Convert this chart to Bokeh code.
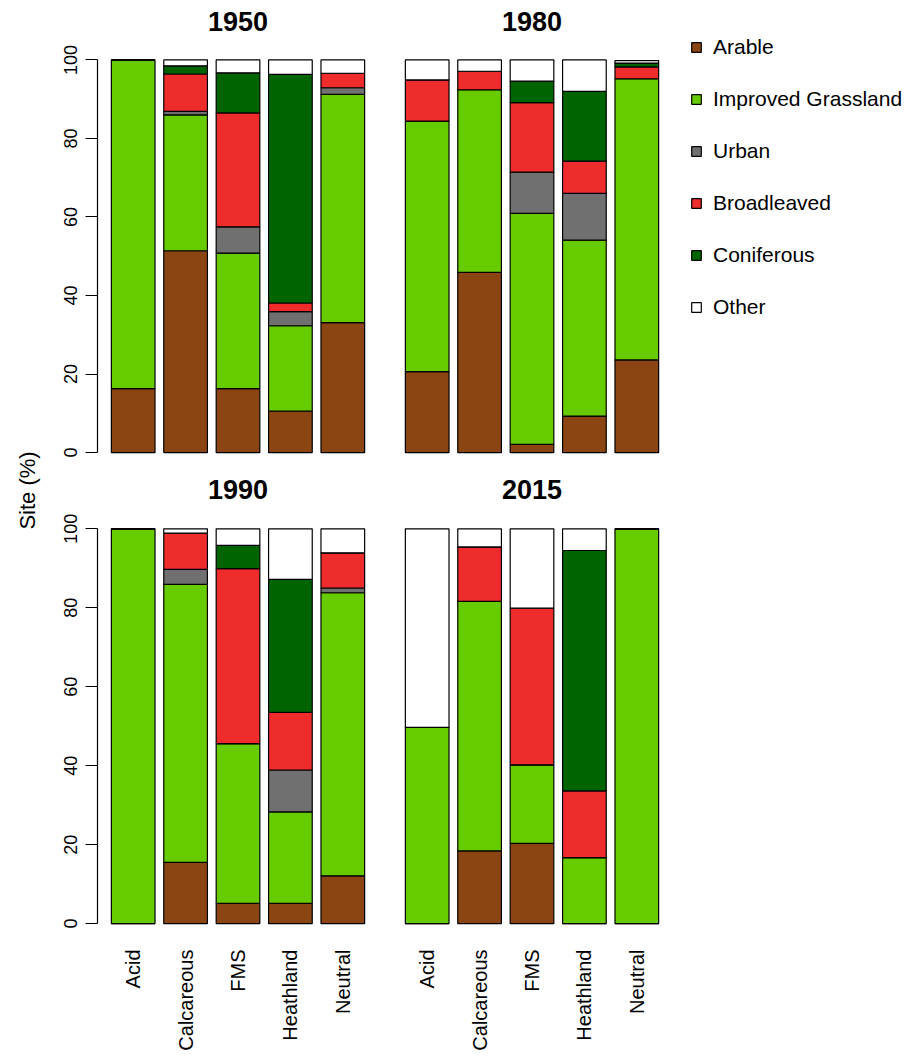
import math
from bokeh.plotting import figure
from bokeh.models import (FactorRange, Range1d, LinearAxis, CategoricalAxis, FixedTicker,
                          Legend, LegendItem, Label, ColumnDataSource)
from bokeh.layouts import row, column
from bokeh.embed import file_html
from bokeh.resources import INLINE

# ---------------- data ----------------
sites = ["Acid", "Calcareous", "FMS", "Heathland", "Neutral"]
land_uses = ["Arable", "Improved Grassland", "Urban", "Broadleaved", "Coniferous", "Other"]
colors = ["#8B4513", "#66CC00", "#707070", "#EE2C2C", "#006400", "#FFFFFF"]
years = ["1950", "1980", "1990", "2015"]

# share of sites (%) per land use, in site order
arable_1950 = [16.3, 51.4, 16.3, 10.6, 33.1]
grass_1950 = [83.7, 34.6, 34.5, 21.7, 58.1]
urban_1950 = [0.0, 0.9, 6.7, 3.6, 1.7]
broad_1950 = [0.0, 9.5, 29.0, 2.2, 3.7]
conif_1950 = [0.0, 2.1, 10.2, 58.2, 0.0]
other_1950 = [0.0, 1.5, 3.3, 3.7, 3.4]

arable_1980 = [20.6, 45.9, 2.1, 9.3, 23.6]
grass_1980 = [63.8, 46.5, 58.8, 44.8, 71.6]
urban_1980 = [0.0, 0.0, 10.5, 11.9, 0.0]
broad_1980 = [10.5, 4.7, 17.7, 8.2, 3.0]
conif_1980 = [0.0, 0.0, 5.5, 17.8, 1.0]
other_1980 = [5.1, 2.9, 5.4, 8.0, 0.6]

arable_1990 = [0.0, 15.5, 5.1, 5.1, 12.1]
grass_1990 = [100.0, 70.4, 40.5, 23.2, 71.7]
urban_1990 = [0.0, 3.8, 0.0, 10.6, 1.2]
broad_1990 = [0.0, 9.2, 44.3, 14.6, 8.9]
conif_1990 = [0.0, 0.0, 5.9, 33.7, 0.0]
other_1990 = [0.0, 1.1, 4.2, 12.8, 6.1]

arable_2015 = [0.0, 18.4, 20.3, 0.0, 0.0]
grass_2015 = [49.7, 63.2, 19.9, 16.7, 100.0]
urban_2015 = [0.0, 0.0, 0.0, 0.0, 0.0]
broad_2015 = [0.0, 13.8, 39.7, 16.9, 0.0]
conif_2015 = [0.0, 0.0, 0.0, 60.9, 0.0]
other_2015 = [50.3, 4.6, 20.1, 5.5, 0.0]

panel_data = {
    "1950": [arable_1950, grass_1950, urban_1950, broad_1950, conif_1950, other_1950],
    "1980": [arable_1980, grass_1980, urban_1980, broad_1980, conif_1980, other_1980],
    "1990": [arable_1990, grass_1990, urban_1990, broad_1990, conif_1990, other_1990],
    "2015": [arable_2015, grass_2015, urban_2015, broad_2015, conif_2015, other_2015],
}

y_ticks = [0, 20, 40, 60, 80, 100]

FONT = "Liberation Sans"


def make_panel(year, left_axis, bottom_axis, min_left, min_right,
               frame_h, y_end, top, bottom):
    cols = {"site": sites}
    for lu, vals in zip(land_uses, panel_data[year]):
        cols[lu] = vals
    src = ColumnDataSource(cols)
    p = figure(x_range=FactorRange(factors=sites, range_padding=0.181,
                                   range_padding_units="absolute"),
               y_range=Range1d(-1.5, y_end),
               frame_width=281, frame_height=frame_h,
               x_axis_location=None, y_axis_location=None,
               toolbar_location=None, output_backend="svg",
               min_border_left=min_left, min_border_right=min_right,
               min_border_top=top, min_border_bottom=bottom,
               title=year)
    p.outline_line_color = None
    p.xgrid.visible = False
    p.ygrid.visible = False
    p.background_fill_color = "white"
    p.border_fill_color = "white"
    p.title.text_font = FONT
    p.title.text_font_size = "27px"
    p.title.text_font_style = "bold"
    p.title.align = "center"
    p.title.standoff = 14
    p.title.text_color = "black"
    rs = p.vbar_stack(land_uses, x="site", width=0.833, source=src,
                      fill_color=colors, line_color="black", line_width=1.2)
    if left_axis:
        ax = LinearAxis(ticker=FixedTicker(ticks=y_ticks), bounds=(0, 100),
                        major_tick_out=12, major_tick_in=0,
                        minor_tick_out=0, minor_tick_in=0,
                        major_label_orientation="vertical",
                        major_label_standoff=8,
                        major_label_text_font=FONT,
                        major_label_text_font_size="18px",
                        major_label_text_color="black",
                        axis_line_color="black", axis_line_width=1.2,
                        major_tick_line_color="black", major_tick_line_width=1.2)
        p.add_layout(ax, "left")
    if bottom_axis:
        xa = CategoricalAxis(major_label_orientation=math.pi / 2,
                             axis_line_color=None, major_tick_line_color=None,
                             major_tick_out=0, major_tick_in=0,
                             major_label_standoff=20,
                             major_label_text_font=FONT,
                             major_label_text_font_size="20px",
                             major_label_text_color="black")
        p.add_layout(xa, "below")
    return p, rs


# top row: frame 37..458 (row height 468); bottom row: frame 505..929
p1950, _ = make_panel("1950", True, False, 44, 6, 421, 105.7, 37, 10)
p1980, rs1980 = make_panel("1980", False, False, 7, 240, 421, 105.7, 37, 10)
p1990, _ = make_panel("1990", True, True, 44, 6, 424, 105.9, 37, 130)
p2015, _ = make_panel("2015", False, True, 7, 6, 424, 105.9, 37, 130)

items = [LegendItem(label=lu, renderers=[r]) for lu, r in zip(land_uses, rs1980)]
legend = Legend(items=items, location=(18, 139), orientation="vertical",
                glyph_width=12, glyph_height=12, label_height=24, spacing=28,
                padding=0, margin=0, label_standoff=11,
                label_text_font=FONT, label_text_font_size="21px",
                label_text_color="black",
                border_line_color=None, background_fill_alpha=0)
p1980.add_layout(legend, "right")

# y-axis title shared by both rows
TOTAL_H = 1059
lab = figure(frame_width=53, frame_height=TOTAL_H, x_range=Range1d(0, 53),
             y_range=Range1d(0, TOTAL_H), min_border=0,
             x_axis_location=None, y_axis_location=None,
             toolbar_location=None, output_backend="svg")
lab.outline_line_color = None
lab.xgrid.visible = False
lab.ygrid.visible = False
lab.add_layout(Label(x=27, y=TOTAL_H - 490, text="Site (%)", angle=math.pi / 2,
                     text_align="center", text_baseline="middle",
                     text_font=FONT, text_font_size="22px", text_color="black"))

layout = row(lab, column(row(p1950, p1980), row(p1990, p2015)))

open("out.html", "w").write(file_html(layout, INLINE))
